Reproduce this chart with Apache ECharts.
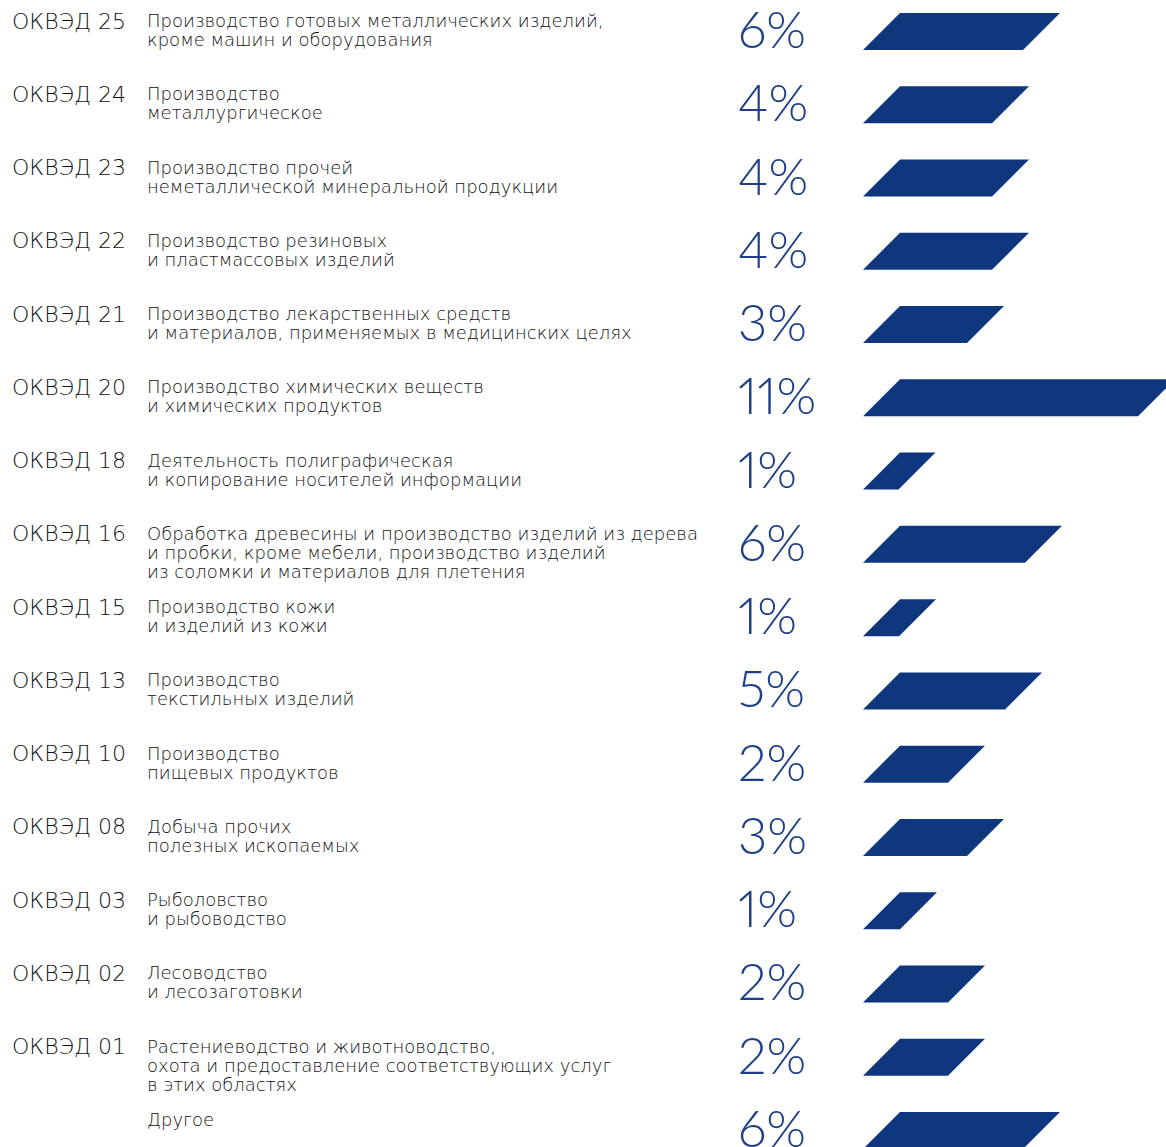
<!DOCTYPE html>
<html lang="ru">
<head>
    <meta charset="UTF-8">
    <title>ОКВЭД</title>
    <script src="https://cdn.jsdelivr.net/npm/echarts@6/dist/echarts.min.js"></script>
    <style>
        html, body { margin: 0; padding: 0; background: #fff; overflow: hidden; }
        #chart { width: 1166px; height: 1147px; }
        #chart text { font-variant-numeric: proportional-nums; }
    </style>
</head>
<body>
<div id="chart"></div>
<script>
    // коды ОКВЭД
    var codes = ['ОКВЭД 25', 'ОКВЭД 24', 'ОКВЭД 23', 'ОКВЭД 22', 'ОКВЭД 21', 'ОКВЭД 20', 'ОКВЭД 18', 'ОКВЭД 16',
        'ОКВЭД 15', 'ОКВЭД 13', 'ОКВЭД 10', 'ОКВЭД 08', 'ОКВЭД 03', 'ОКВЭД 02', 'ОКВЭД 01', ''];
    var names = [
        'Производство готовых металлических изделий,\nкроме машин и оборудования',
        'Производство\nметаллургическое',
        'Производство прочей\nнеметаллической минеральной продукции',
        'Производство резиновых\nи пластмассовых изделий',
        'Производство лекарственных средств\nи материалов, применяемых в медицинских целях',
        'Производство химических веществ\nи химических продуктов',
        'Деятельность полиграфическая\nи копирование носителей информации',
        'Обработка древесины и производство изделий из дерева\nи пробки, кроме мебели, производство изделий\nиз соломки и материалов для плетения',
        'Производство кожи\nи изделий из кожи',
        'Производство\nтекстильных изделий',
        'Производство\nпищевых продуктов',
        'Добыча прочих\nполезных ископаемых',
        'Рыболовство\nи рыбоводство',
        'Лесоводство\nи лесозаготовки',
        'Растениеводство и животноводство,\nохота и предоставление соответствующих услуг\nв этих областях',
        'Другое'
    ];
    // подписи долей
    var shareLabels = ['6%', '4%', '4%', '4%', '3%', '11%', '1%', '6%', '1%', '5%', '2%', '3%', '1%', '2%', '2%', '6%'];
    // длина полос (как на рисунке)
    var barValues = [6.4, 5.16, 5.16, 5.16, 4.16, 11, 1.42, 6.48, 1.44, 5.68, 3.4, 4.16, 1.48, 3.4, 3.4, 6.4];

    var chart = echarts.init(document.getElementById('chart'), null, { renderer: 'svg' });

    var barH = 37;
    var slant = 37;

    function renderRow(params, api) {
        var idx = api.value(0);
        var start = api.coord([0, idx]);
        var end = api.coord([api.value(1), idx]);
        var cy = start[1];
        var top = cy - barH / 2;
        var bottom = cy + barH / 2;
        return {
            type: 'group',
            children: [{
                type: 'polygon',
                shape: {
                    points: [
                        [start[0], bottom],
                        [start[0] + slant, top],
                        [end[0] + slant, top],
                        [end[0], bottom]
                    ]
                },
                style: { fill: '#0f377d' }
            }, {
                type: 'text',
                x: 12,
                y: top + 8,
                style: {
                    text: codes[idx],
                    fill: '#111',
                    fontSize: 22,
                    fontFamily: 'DejaVu Sans',
                    fontWeight: 200,
                    verticalAlign: 'middle'
                }
            }, {
                type: 'text',
                x: 147,
                y: top - 2,
                style: {
                    text: names[idx],
                    fill: '#111',
                    fontSize: 18,
                    lineHeight: 19,
                    fontFamily: 'DejaVu Sans',
                    fontWeight: 200,
                    verticalAlign: 'top'
                }
            }, {
                type: 'text',
                x: 738,
                y: cy - 3,
                style: {
                    text: shareLabels[idx],
                    fill: '#1d3f87',
                    fontSize: 51,
                    lineHeight: 44,
                    fontFamily: 'Lato',
                    fontWeight: 300,
                    verticalAlign: 'middle'
                }
            }]
        };
    }

    var option = {
        backgroundColor: '#fff',
        animation: false,
        grid: { left: 863, width: 275, top: 31.5, bottom: 16.5 },
        xAxis: { type: 'value', min: 0, max: 11, show: false },
        yAxis: { type: 'category', data: codes.map(function (c, i) { return i; }), inverse: true, boundaryGap: false, show: false },
        series: [{
            type: 'custom',
            clip: false,
            renderItem: renderRow,
            encode: { x: 1, y: 0 },
            data: barValues.map(function (v, i) { return [i, v]; })
        }]
    };
    chart.setOption(option);
</script>
</body>
</html>
